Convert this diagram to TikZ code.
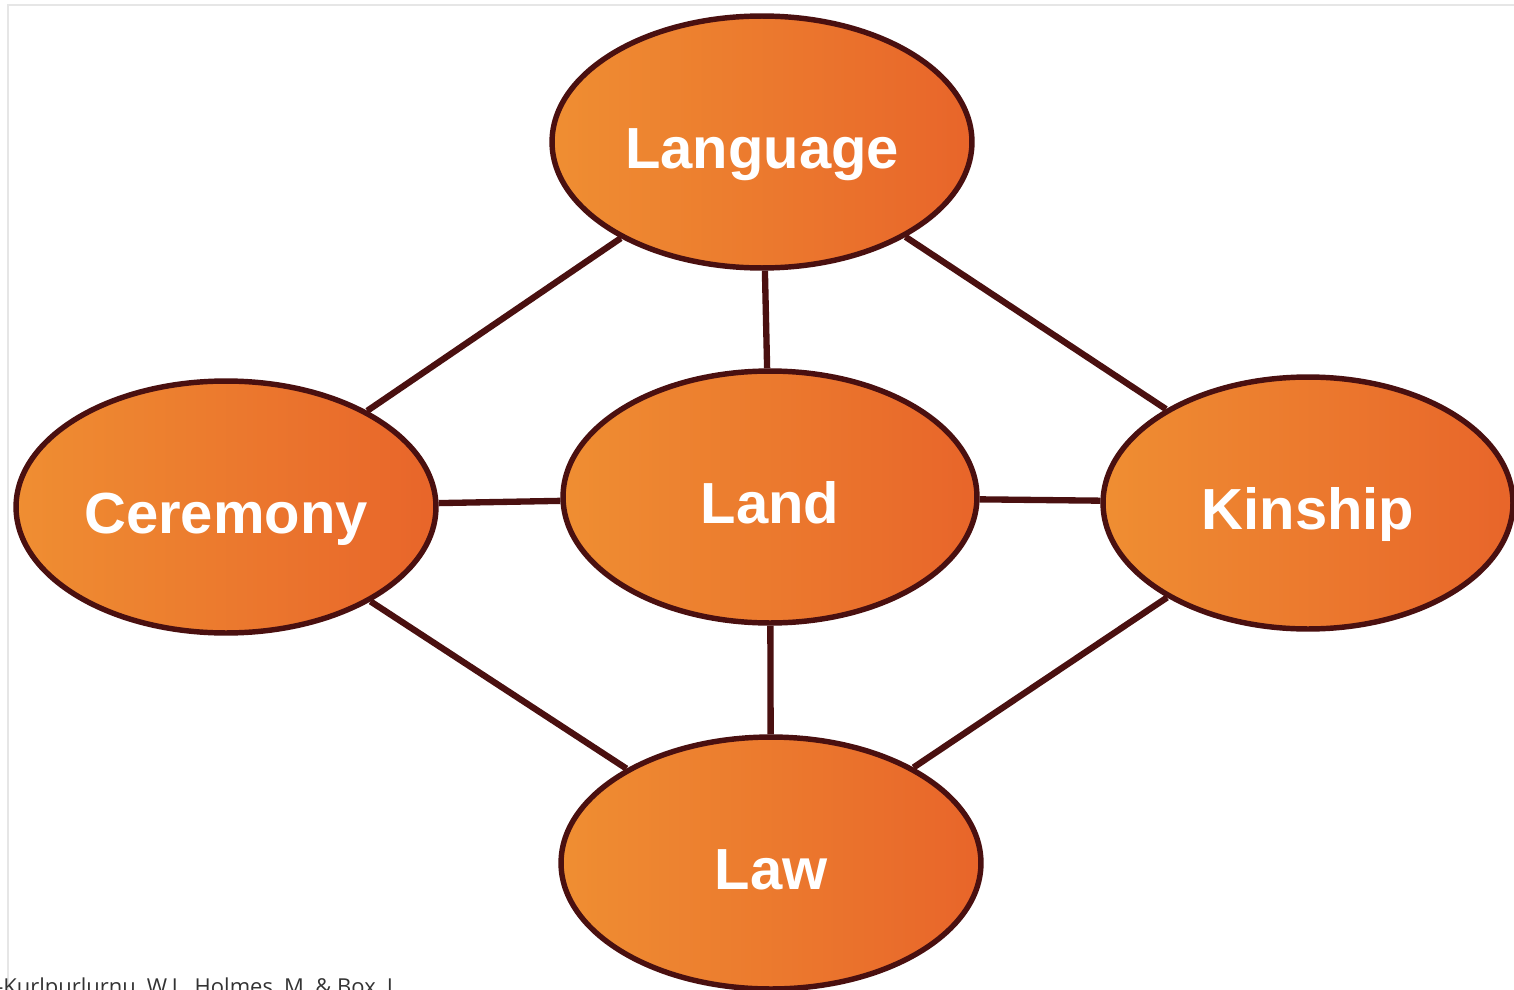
\documentclass[tikz,border=0pt]{standalone}
\usepackage{fontspec}
\setmainfont{Liberation Sans}
\newfontfamily\captionfont{Open Sans}
\usetikzlibrary{shapes.geometric}

\definecolor{rimbrown}{HTML}{4A1010}
\definecolor{orangeL}{HTML}{EF8E32}
\definecolor{orangeR}{HTML}{E8652A}
\definecolor{framegrey}{HTML}{E6E6E6}
\definecolor{captiongrey}{HTML}{333333}

\begin{document}
\begin{tikzpicture}[x=0.02cm,y=-0.02cm,
    topic/.style={ellipse, draw=rimbrown, line width=3.1pt,
      left color=orangeL, right color=orangeR, inner sep=0pt,
      minimum width=8.4cm, minimum height=5.04cm,
      text height=30pt, text depth=0pt,
      text=white, font=\bfseries\fontsize{33}{36}\selectfont},
    link/.style={draw=rimbrown, line width=3.6pt}]
          \useasboundingbox (0,0) rectangle (1514,990);
          \draw[framegrey, line width=0.6pt] (8,990) -- (8,5) -- (1514,5);

          % Draw the five topics
          \node[topic] (language) at (762,142) {Language};
          \node[topic] (ceremony) at (226,507) {Ceremony};
          \node[topic] (land) at (770,497) [minimum width=8.28cm] {Land};
          \node[topic] (kinship) at (1308,503) [minimum width=8.2cm] {Kinship};
          \node[topic] (law) at (771,863) {Law};

          % Links between topics
          \foreach \a/\b in {language/ceremony, language/land, language/kinship,
              ceremony/land, land/kinship,
              ceremony/law, land/law, kinship/law} {
              \path[link] (\a) -- (\b);
          }

          % Source line, cut off at the bottom
          \node[anchor=base west, inner sep=0pt, text=captiongrey,
                font=\captionfont\fontsize{12.5}{14}\selectfont] (source) at (-4,994)
                {-Kurlpurlurnu, W.J., Holmes, M. \& Box, L.};
      \end{tikzpicture}
\end{document}
